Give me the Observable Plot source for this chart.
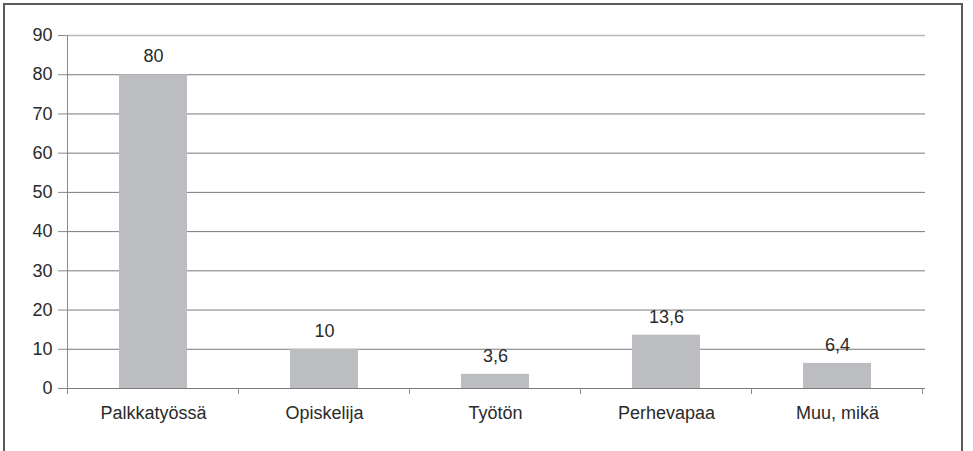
<!DOCTYPE html>
<html>
<head>
<meta charset="utf-8">
<script src="https://cdn.jsdelivr.net/npm/d3@7"></script>
<script src="https://cdn.jsdelivr.net/npm/@observablehq/plot@0.6"></script>
<style>
  html, body { margin: 0; padding: 0; background: #fff; }
  #wrap { position: relative; width: 973px; height: 451px; overflow: hidden; }
  #border {
    position: absolute; left: 3px; top: 3px; width: 960px; height: 470px;
    border: 2px solid #5a5a5a; box-sizing: border-box; pointer-events: none;
  }
  #wrap svg { font-family: "Liberation Sans", Arial, sans-serif; }
  #wrap svg text { font-size: 18px !important; fill: #2a2a2a; }
</style>
</head>
<body>
<div id="wrap"><div id="border"></div></div>
<script>
const categories = ["Palkkatyössä", "Opiskelija", "Työtön", "Perhevapaa", "Muu, mikä"];
const values = [80, 10, 3.6, 13.6, 6.4];
const yTicks = [0, 10, 20, 30, 40, 50, 60, 70, 80, 90];

const data = categories.map((c, i) => ({category: c, value: values[i]}));
const fmt = v => d3.format("~g")(v).replace(".", ",");

// Left axis line and category-boundary ticks below the baseline
function axisFrame(index, scales, values, dimensions) {
  const x = scales.x, y = scales.y;
  const step = x.step();
  const left = x(categories[0]) - (step - x.bandwidth()) / 2;
  const bounds = d3.range(categories.length + 1).map(i => left + i * step);
  const g = d3.create("svg:g").attr("stroke", "#8a8a8a").attr("stroke-width", 1);
  g.append("line")
    .attr("x1", left).attr("x2", left)
    .attr("y1", y(90)).attr("y2", y(0) + 6);
  g.selectAll("line.t").data(bounds).join("line")
    .attr("class", "t")
    .attr("x1", d => d).attr("x2", d => d)
    .attr("y1", y(0)).attr("y2", y(0) + 6);
  return g.node();
}

const chart = Plot.plot({
  width: 973,
  height: 451,
  marginLeft: 66,
  marginRight: 48,
  marginTop: 35,
  marginBottom: 63,
  style: {background: "transparent"},
  x: {domain: categories, paddingInner: 0.6, paddingOuter: 0.3, label: null},
  y: {domain: [0, 90], label: null},
  marks: [
    Plot.gridY(yTicks.filter(d => d < 90), {stroke: "#7a7a7a", strokeOpacity: 1}),
    Plot.gridY([90], {stroke: "#b8b8b8", strokeOpacity: 1, strokeWidth: 1.5}),
    Plot.axisY({ticks: yTicks, tickSize: 8, tickPadding: 6, stroke: "#8a8a8a"}),
    Plot.axisX({tickSize: 0, tickPadding: 18}),
    Plot.barY(data, {x: "category", y: "value", fill: "#bcbdc1"}),
    Plot.text(data, {x: "category", y: "value", text: d => fmt(d.value), dy: -18}),
    axisFrame
  ]
});
document.getElementById("wrap").prepend(chart);
</script>
</body>
</html>
